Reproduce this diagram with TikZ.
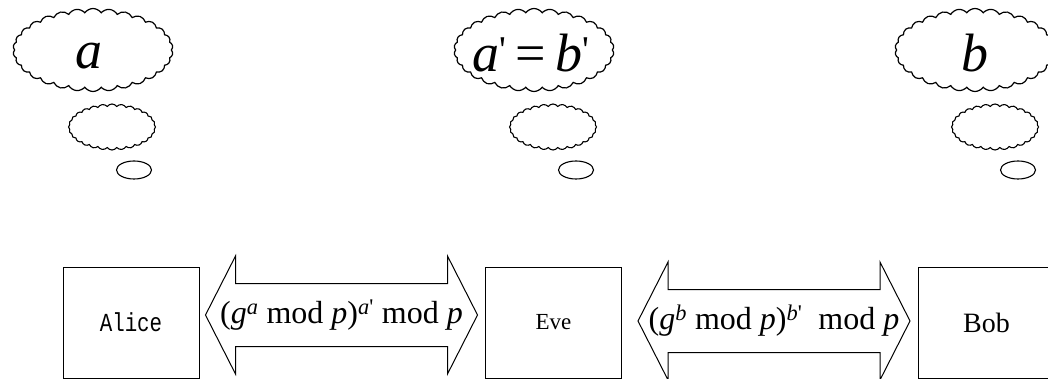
\documentclass[tikz,border=0pt]{standalone}
\usepackage{fontspec}
\setmainfont{Liberation Serif}
\newfontfamily\monofont[FakeStretch=0.8]{Liberation Mono}
\usetikzlibrary{shapes.symbols,shapes.geometric,positioning}

\begin{document}
\begin{tikzpicture}[
      x=1pt,y=-1pt,
      party/.style={draw,line width=1pt,minimum width=136pt,minimum height=111pt,inner sep=0pt},
      bigcloud/.style={cloud,draw,line width=1.2pt,cloud puffs=30,cloud puff arc=110,aspect=1.9,minimum width=160pt,minimum height=83pt,inner sep=0pt},
      midcloud/.style={cloud,draw,line width=1.1pt,cloud puffs=28,cloud puff arc=110,aspect=1.9,minimum width=87pt,minimum height=46pt,inner sep=0pt},
      bubble/.style={ellipse,draw,line width=1.1pt,minimum width=35pt,minimum height=18pt,inner sep=0pt},
      thinktext/.style={inner sep=0pt,anchor=base,font=\fontsize{54}{54}\selectfont},
      formula/.style={inner sep=0pt,font=\fontsize{32}{32}\selectfont},
      xchg/.style={draw,line width=1pt,line join=miter}
    ]
      \useasboundingbox (0,0) rectangle (1048,379);
      % thought clouds
      \node[bigcloud] (ca) at (93,50) {};
      \node[midcloud] (ca2) at (112,127) {};
      \node[bubble] (ca3) at (134,170) {};
      \node[thinktext] (ta) at (89,69) {\textit{a}};
      \node[bigcloud] (ce) at (534,50) {};
      \node[midcloud] (ce2) at (553,127) {};
      \node[bubble] (ce3) at (576,170) {};
      \node[thinktext] (te) at (531,72) {\textit{a}\textsuperscript{\textquotesingle}\,=\,\textit{b}\textsuperscript{\textquotesingle}};
      \node[bigcloud] (cb) at (975,50) {};
      \node[midcloud] (cb2) at (995,127) {};
      \node[bubble] (cb3) at (1018,170) {};
      \node[thinktext] (tb) at (975,72) {\textit{b}};
      % parties
      \node[party] (alice) at (131,322.5) {\monofont\fontsize{26}{26}\selectfont Alice};
      \node[party] (eve) at (553.5,322.5) {\fontsize{23}{23}\selectfont Eve};
      \node[party] (bob) at (986.5,322.5) {\fontsize{28}{28}\selectfont Bob};
      % exchanges
      \node[formula] (ae) at (341.5,315) {(\textit{g}\textsuperscript{\textit{a}} mod \textit{p})\textsuperscript{\textit{a}\textquotesingle} mod \textit{p}};
      \node[formula] (eb) at (774,321) {(\textit{g}\textsuperscript{\textit{b}} mod \textit{p})\textsuperscript{\textit{b}\textquotesingle}\ \ mod \textit{p}};
      \foreach \m in {ae,eb}
        \draw[xchg] (\m.center) ++(-136,0) -- ++(30,-59) -- ++(0,27.5) -- ++(212,0) -- ++(0,-27.5) -- ++(30,59)
          -- ++(-30,59) -- ++(0,-27.5) -- ++(-212,0) -- ++(0,27.5) -- cycle;
    \end{tikzpicture}
\end{document}
